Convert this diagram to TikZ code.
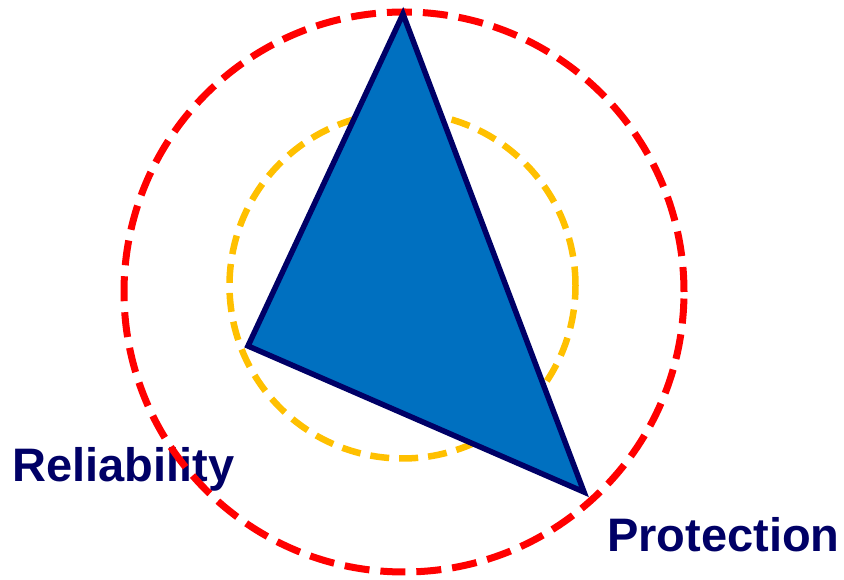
\documentclass[tikz,border=0pt]{standalone}
\usepackage{fontspec}
\setmainfont{Liberation Sans}
\definecolor{navy}{HTML}{000066}
\definecolor{triblue}{HTML}{0070C0}
\definecolor{dashred}{HTML}{FF0000}
\definecolor{dashorange}{HTML}{FFC000}
\begin{document}
\begin{tikzpicture}[x=1pt,y=1pt,
  lbl/.style={anchor=base west,inner sep=0pt,text=navy,font=\fontsize{47}{56}\selectfont\bfseries},
  outerring/.style={draw=dashred,line width=7pt,dash pattern=on 25pt off 11pt},
  innerring/.style={draw=dashorange,line width=6.5pt,dash pattern=on 19pt off 10pt},
  tri/.style={fill=triblue,draw=navy,line width=5.5pt,line join=miter}]
\useasboundingbox (0,0) rectangle (844,580);
\node[lbl] (rel) at (12,98) {Reliability};
\node[lbl] (pro) at (607,28) {Protection};
\draw[innerring] (402.5,294.5) circle (173);
\draw[outerring] (404,288) circle (280);
\coordinate (A) at (403,566);
\coordinate (B) at (248,234);
\coordinate (C) at (584,88);
\draw[tri] (A) -- (B) -- (C) -- cycle;
\end{tikzpicture}
\end{document}
